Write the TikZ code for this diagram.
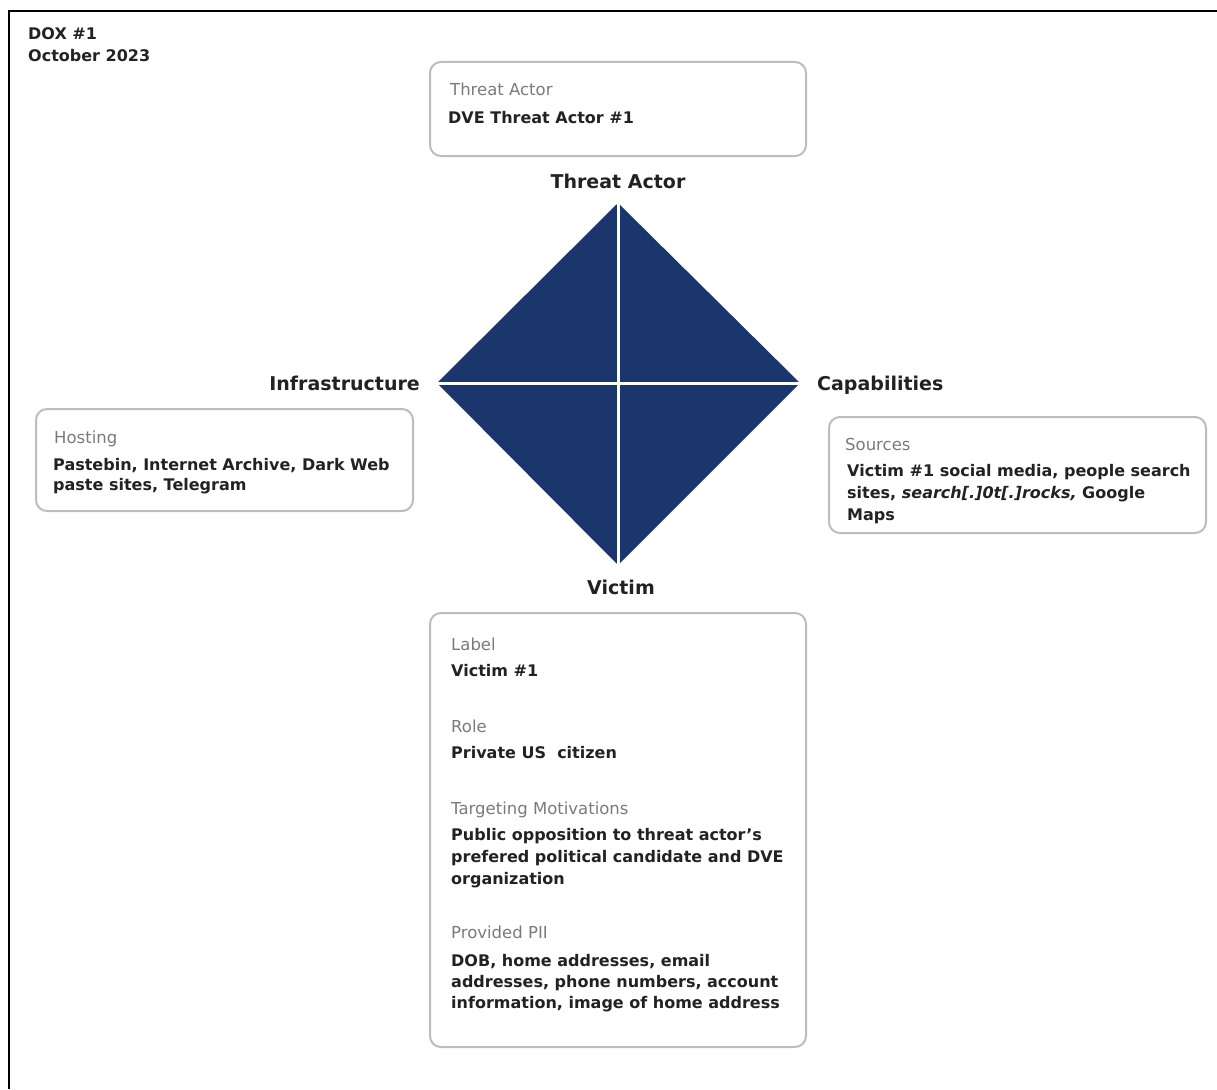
\documentclass[tikz,border=0pt]{standalone}
\usepackage{fontspec}
\setmainfont{DejaVu Sans}
\definecolor{navy}{HTML}{1B366D}
\definecolor{boxgray}{HTML}{BDBDBD}
\definecolor{lblgray}{HTML}{7A7A7A}
\definecolor{ink}{HTML}{222222}
\begin{document}
\begin{tikzpicture}[x=1pt,y=-1pt,
  card/.style={draw=boxgray,line width=2pt,rounded corners=11pt},
  lbl/.style={anchor=base west,inner sep=0pt,text=lblgray,font=\fontsize{16.5}{18}\selectfont},
  val/.style={anchor=base west,inner sep=0pt,text=ink,font=\fontsize{16}{18}\selectfont\bfseries},
  head/.style={inner sep=0pt,text=ink,font=\fontsize{19}{22}\selectfont\bfseries},
  cross/.style={draw=white,line width=3pt}]
\useasboundingbox (0,0) rectangle (1217,1089);
% frame
\coordinate (fbl) at (9,1089);
\coordinate (ftl) at (9,11);
\coordinate (ftr) at (1217,11);
\draw[line width=2pt] (fbl) -- (ftl) -- (ftr);
% title
\node[val] (t1) at (28,40) {DOX \#1};
\node[val] (t2) at (28,62) {October 2023};
% diamond
\coordinate (dT) at (618,203);
\coordinate (dL) at (437,383);
\coordinate (dR) at (800,383);
\coordinate (dB) at (618,565);
\fill[navy] (dT) -- (dR) -- (dB) -- (dL) -- cycle;
\draw[cross] (dT) -- (dB);
\draw[cross] (dL) -- (dR);
% corner labels
\node[head,anchor=base] (hTA) at (618,188) {Threat Actor};
\node[head,anchor=base east] (hInf) at (420,390) {Infrastructure};
\node[head,anchor=base west] (hCap) at (817,390) {Capabilities};
\node[head,anchor=base] (hVic) at (621,594) {Victim};
% threat actor card
\draw[card] (430,62) rectangle (806,156);
\node[lbl] (a1) at (450,96) {Threat Actor};
\node[val] (a2) at (448,124) {DVE Threat Actor \#1};
% hosting card
\draw[card] (36,409) rectangle (413,511);
\node[lbl] (h1) at (54,443) {Hosting};
\node[val] (h2) at (53,470) {Pastebin, Internet Archive, Dark Web};
\node[val] (h3) at (53,490) {paste sites, Telegram};
% sources card
\draw[card] (829,417) rectangle (1206,533);
\node[lbl] (s1) at (845,450) {Sources};
\node[val] (s2) at (847,476) {Victim \#1 social media, people search};
\node[val] (s3) at (847,498) {sites, \textit{search[.]0t[.]rocks,} Google};
\node[val] (s4) at (847,520) {Maps};
% victim card
\draw[card] (430,613) rectangle (806,1047);
\node[lbl] (v1) at (451,650) {Label};
\node[val] (v2) at (451,676) {Victim \#1};
\node[lbl] (v3) at (451,732) {Role};
\node[val] (v4) at (451,758) {Private US\ \ citizen};
\node[lbl] (v5) at (451,814) {Targeting Motivations};
\node[val] (v6) at (451,840) {Public opposition to threat actor’s};
\node[val] (v7) at (451,862) {prefered political candidate and DVE};
\node[val] (v8) at (451,884) {organization};
\node[lbl] (v9) at (451,938) {Provided PII};
\node[val] (v10) at (451,966) {DOB, home addresses, email};
\node[val] (v11) at (451,987) {addresses, phone numbers, account};
\node[val] (v12) at (451,1008) {information, image of home address};
\end{tikzpicture}
\end{document}
